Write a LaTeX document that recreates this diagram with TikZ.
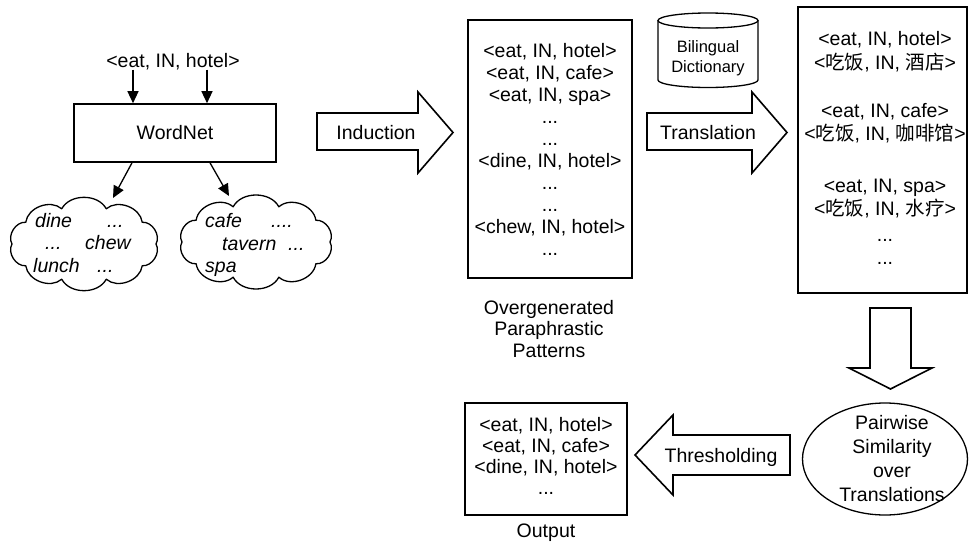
\documentclass[tikz,border=0pt]{standalone}
\usepackage{fontspec}
\setmainfont{Liberation Sans}
\newfontfamily\cjk{Noto Sans CJK SC}
\usetikzlibrary{shapes.geometric,arrows.meta,calc}
\begin{document}
\begin{tikzpicture}[x=1pt,y=-1pt,
  txt/.style={font=\fontsize{19.5}{22}\selectfont, inner sep=0pt, align=center},
  cl/.style={font=\fontsize{19.5}{22}\selectfont\itshape, inner sep=0pt, anchor=base west},
  box/.style={draw, line width=1.6pt, inner sep=0pt},
  arr/.style={line width=1.3pt, -{Triangle[length=12pt,width=11pt]}},
  blk/.style={draw, line width=1.6pt, line join=miter},
  thin/.style={draw, line width=1.3pt},
  puff/.style={bend left=62}]
\useasboundingbox (0,0) rectangle (970,544);
\fill[white] (0,0) rectangle (970,544);

% WordNet part
\node[txt, anchor=base] (top) at (173,67) {<eat, IN, hotel>};
\node[box, txt, minimum width=202pt, minimum height=58pt] (wn) at (175,133) {WordNet};
\draw[arr] ([xshift=-42pt]wn.north |- top.south) -- ([xshift=-42pt]wn.north);
\draw[arr] ([xshift=32pt]wn.north |- top.south) -- ([xshift=32pt]wn.north);

% clouds
\coordinate (c1) at (84,244);
\coordinate (c2) at (256,242);
\draw[thin, line join=round] ($(c1)+(0:72 and 37)$)
  \foreach \a in {36,72,...,324} { to[puff] ($(c1)+(\a:72 and 37)$) } to[puff] cycle;
\draw[thin, line join=round] ($(c2)+(0:74 and 37)$)
  \foreach \a in {36,72,...,324} { to[puff] ($(c2)+(\a:74 and 37)$) } to[puff] cycle;
\coordinate (e1) at (113,198);
\coordinate (e2) at (229,196);
\draw[arr] ([xshift=-43pt]wn.south) -- (e1);
\draw[arr] ([xshift=35pt]wn.south) -- (e2);

\node[cl] (w1) at (35,227) {dine};
\node[cl] (w2) at (107,227) {...};
\node[cl] (w3) at (45,249) {...};
\node[cl] (w4) at (85,249) {chew};
\node[cl] (w5) at (33,272) {lunch};
\node[cl] (w6) at (97,272) {...};
\node[cl] (v1) at (205,227) {cafe};
\node[cl] (v2) at (271,227) {....};
\node[cl] (v3) at (222,250) {tavern};
\node[cl] (v4) at (288,250) {...};
\node[cl] (v5) at (205,272) {spa};

% Induction arrow
\draw[blk] (317,113) -- (418,113) -- (418,92) -- (453,132.5) -- (418,173) -- (418,150) -- (317,150) -- cycle;
\node[txt, anchor=base] (ind) at (376,139) {Induction};

% Overgenerated box
\node[box, txt, minimum width=164pt, minimum height=258pt] (og) at (550,149)
  {<eat, IN, hotel>\\<eat, IN, cafe>\\<eat, IN, spa>\\...\\...\\<dine, IN, hotel>\\...\\...\\<chew, IN, hotel>\\...};
\node[txt, font=\fontsize{19.5}{21.5}\selectfont] (ogc) at (549,329) {Overgenerated\\Paraphrastic\\Patterns};

% Dictionary cylinder
\draw[thin] (708,20.5) ellipse [x radius=50pt, y radius=7.5pt];
\draw[thin] (658,20.5) -- (658,80) arc[start angle=180, end angle=360, x radius=50pt, y radius=7.5pt] -- (758,20.5);
\node[font=\fontsize{16.5}{20}\selectfont, align=center, inner sep=0pt] (dict) at (708,58) {Bilingual\\Dictionary};

% Translation arrow
\draw[blk] (647,113) -- (752,113) -- (752,92) -- (787,132.5) -- (752,173) -- (752,150) -- (647,150) -- cycle;
\node[txt, anchor=base] (trl) at (708,139) {Translation};

% Translation box
\node[box, minimum width=169pt, minimum height=286pt] (tr) at (882.5,150) {};
\node[txt, anchor=base] (t1) at (885,45) {<eat, IN, hotel>};
\node[txt, anchor=base] (t2) at (885,69) {<{\cjk 吃饭}, IN, {\cjk 酒店}>};
\node[txt, anchor=base] (t3) at (885,117) {<eat, IN, cafe>};
\node[txt, anchor=base] (t4) at (885,140) {<{\cjk 吃饭}, IN, {\cjk 咖啡馆}>};
\node[txt, anchor=base] (t5) at (885,192) {<eat, IN, spa>};
\node[txt, anchor=base] (t6) at (885,215) {<{\cjk 吃饭}, IN, {\cjk 水疗}>};
\node[txt, anchor=base] (t7) at (885,241) {...};
\node[txt, anchor=base] (t8) at (885,264) {...};

% Down arrow
\draw[blk] (870,308) -- (911,308) -- (911,368) -- (932,368) -- (890.5,389) -- (849,368) -- (870,368) -- cycle;

% Similarity ellipse
\node[draw, ellipse, line width=1.3pt, minimum width=165pt, minimum height=112pt, inner sep=0pt] (sim) at (885,459) {};
\node[txt, font=\fontsize{19.5}{24}\selectfont] (simt) at (892,459) {Pairwise\\Similarity\\over\\Translations};

% Thresholding arrow
\draw[blk] (790,435) -- (673,435) -- (673,415) -- (635,455) -- (673,495) -- (673,475) -- (790,475) -- cycle;
\node[txt, anchor=base] (thr) at (721,462) {Thresholding};

% Output box
\node[box, minimum width=162pt, minimum height=112pt] (out) at (546,459) {};
\node[txt, font=\fontsize{19.5}{21}\selectfont] (outt) at (546,456) {<eat, IN, hotel>\\<eat, IN, cafe>\\<dine, IN, hotel>\\...};
\node[txt, anchor=base] (outc) at (546,537) {Output};
\end{tikzpicture}
\end{document}
